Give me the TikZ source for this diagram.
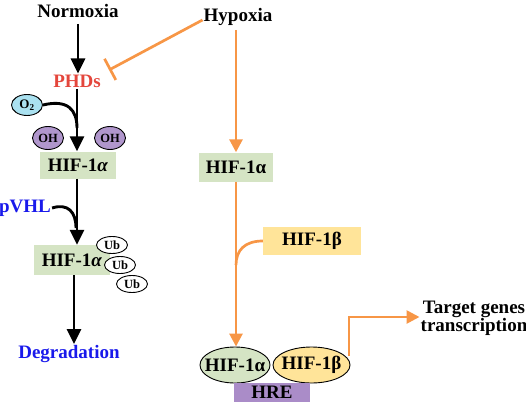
\documentclass[tikz,border=0pt]{standalone}
\usepackage{fontspec}
\setmainfont{Liberation Serif}
\usetikzlibrary{arrows.meta,shapes.geometric}
\definecolor{boxgreen}{RGB}{213,228,196}
\definecolor{boxyellow}{RGB}{255,228,153}
\definecolor{ohpurple}{RGB}{176,150,204}
\definecolor{hrepurple}{RGB}{170,140,200}
\definecolor{otwo}{RGB}{170,225,240}
\definecolor{orangeline}{RGB}{247,150,70}
\definecolor{phdred}{RGB}{228,70,60}
\definecolor{degblue}{RGB}{25,25,235}
\tikzset{
  bigfont/.style={font=\fontsize{19}{20}\selectfont\bfseries},
  lbl/.style={bigfont, inner sep=1pt},
  gbox/.style={fill=boxgreen, minimum width=76pt, minimum height=27pt, inner sep=0pt, bigfont},
  ybox/.style={fill=boxyellow, minimum width=98pt, minimum height=28pt, inner sep=0pt, bigfont},
  oh/.style={ellipse, draw=black, line width=0.9pt, fill=ohpurple, minimum width=31pt, minimum height=23pt, inner sep=0pt, font=\fontsize{12.5}{13}\selectfont\bfseries},
  ub/.style={ellipse, draw=black, line width=0.9pt, fill=white, minimum width=31pt, minimum height=17pt, inner xsep=0pt, inner ysep=-2pt, font=\fontsize{12.5}{13}\selectfont\bfseries},
  bigell/.style={ellipse, draw=black, line width=0.9pt, minimum height=36pt, inner xsep=-12pt, inner ysep=-2pt, bigfont},
  blk/.style={draw=black, line width=2.9pt, -{Triangle[width=14pt,length=15pt]}},
  blkline/.style={draw=black, line width=2.9pt},
  org/.style={draw=orangeline, line width=2.7pt, -{Triangle[width=13pt,length=13pt]}},
  orgline/.style={draw=orangeline, line width=2.7pt},
}
\begin{document}
\begin{tikzpicture}[x=1pt,y=-1pt]
\useasboundingbox (0,0) rectangle (526,404);
% left column
\node[lbl] (norm) at (78,11) {Normoxia};
\node[lbl, text=phdred] (phds) at (77,81) {PHDs};
\node[ellipse, draw=black, line width=0.9pt, fill=otwo, minimum width=31pt, minimum height=21pt, inner sep=0pt, font=\fontsize{13}{14}\selectfont\bfseries] (o2) at (27,105) {O\textsubscript{2}};
\node[oh] (oh1) at (48,138) {OH};
\node[oh] (oh2) at (110,138) {OH};
\node[gbox] (hifL) at (78,165) {HIF-1\textit{α}};
\node[lbl, text=degblue] (pvhl) at (25,208) {pVHL};
\node[gbox, minimum height=30pt] (hifL2) at (72,260) {HIF-1\textit{α}};
\node[ub] (ub1) at (112,245) {Ub};
\node[ub] (ub2) at (120,265) {Ub};
\node[ub] (ub3) at (132,284) {Ub};
\node[lbl, text=degblue] (deg) at (69,354) {Degradation};
% right column
\node[lbl] (hyp) at (238,17) {Hypoxia};
\node[gbox, minimum width=74pt, minimum height=29pt] (hifR) at (236,167) {HIF-1α};
\node[ybox] (hifb) at (312,241) {HIF-1β};
\node[bigell, fill=boxgreen, minimum width=70pt] (ea) at (235,365) {HIF-1α};
\node[bigell, fill=boxyellow, minimum width=77pt] (eb) at (311.5,365) {HIF-1β};
\node[fill=hrepurple, minimum width=76pt, minimum height=19pt, inner sep=0pt, bigfont] (hre) at (272,392) {HRE};
\node[lbl, align=center, font=\fontsize{19}{18}\selectfont\bfseries] (tgt) at (474,318) {Target genes\\transcription};
% connectors left
\draw[blk] (norm.south) ++(0,5) coordinate (n1) (n1) -- (n1 |- phds.north);
\coordinate (j1) at (77,128);
\draw[blk] (phds.south) -- (hifL.north -| phds.south);
\draw[blkline] (o2.east) .. controls (68,99) and (77,110) .. (j1);
\coordinate (j2) at (76,228);
\draw[blk] (hifL.south) ++(-1,0) coordinate (hls) (hls) -- (hls |- hifL2.north);
\draw[blkline] (pvhl.east) .. controls (68,203) and (76,212) .. (j2);
\draw[blk] (hifL2.south) ++(2,0) coordinate (h2s) (h2s) -- (h2s |- deg.north);
% connectors right
\coordinate (inh) at (109,70);
\draw[orgline, -{Bar[width=24pt,line width=2.7pt]}] (hyp.west) ++(0,3) coordinate (hw) (hw) -- (inh);
\draw[org] (hyp.south) ++(-2,3) coordinate (hs) (hs) -- (hs |- hifR.north);
\coordinate (j3) at (236,265);
\draw[org] (hifR.south) -- (hifR.south |- ea.north);
\draw[orgline] (hifb.west) .. controls (245,241) and (236,250) .. (j3);
\coordinate (elb) at (349,317);
\draw[org] (349,356) coordinate (es) (es) -- (elb) -- (tgt.west |- elb);
\end{tikzpicture}
\end{document}
